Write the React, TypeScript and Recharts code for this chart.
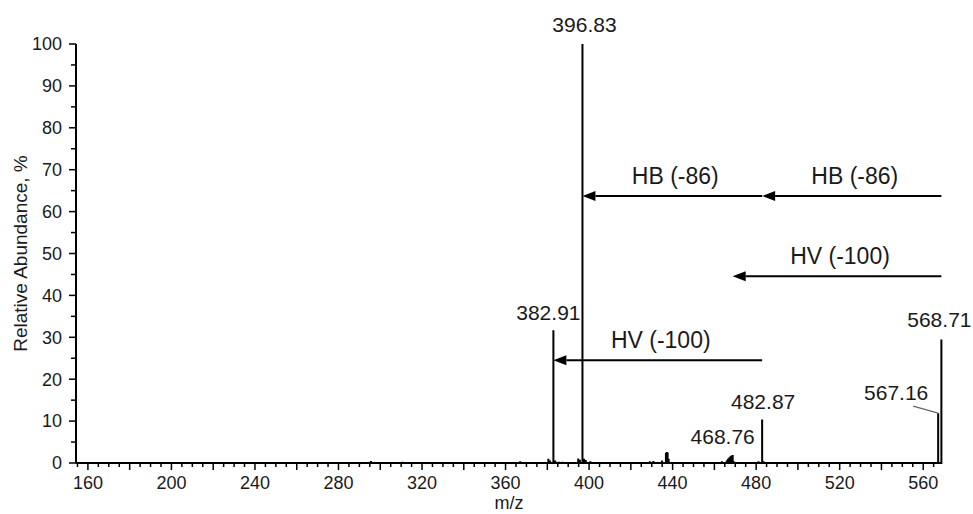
import { ComposedChart, Line, XAxis, YAxis, ReferenceLine, ReferenceDot } from "recharts";

// m/z of every stick in the spectrum and its relative abundance (%)
const peakMz = [
    295.5, 310.6, 367.0, 380.5, 381.3, 382.91, 383.8, 385.5, 387.2, 394.8, 395.6, 396.83,
    397.6, 398.4, 400.6, 429.1, 430.8, 434.9, 436.8, 437.2, 437.6, 438.1, 463.6, 465.9,
    466.5, 467.1, 467.7, 468.2, 468.76, 469.3, 481.1, 482.87, 483.6, 567.16, 568.71,
];
const peakAbundance = [
    0.5, 0.3, 0.4, 1.0, 0.6, 31.7, 0.6, 0.3, 0.3, 1.1, 0.8, 100,
    1.0, 0.7, 0.4, 0.4, 0.5, 0.6, 2.4, 2.6, 2.5, 1.0, 0.4, 0.6,
    1.0, 1.3, 1.6, 1.8, 1.9, 0.4, 0.4, 10.4, 0.4, 11.9, 29.5,
];

const labeledPeaks = [382.91, 396.83, 468.76, 482.87, 567.16, 568.71];

// neutral losses drawn as arrows (from, to, height in %)
const lossFrom = [568.71, 482.87, 568.71, 482.87];
const lossTo = [482.87, 396.83, 468.76, 382.91];
const lossLevel = [63.7, 63.7, 44.6, 24.5];
const lossText = ["HB (-86)", "HB (-86)", "HV (-100)", "HV (-100)"];

const xLabelTicks = [160, 200, 240, 280, 320, 360, 400, 440, 480, 520, 560];
const yLabelTicks = [0, 10, 20, 30, 40, 50, 60, 70, 80, 90, 100];

const X_MIN = 154.3;
const X_MAX = 569;

// minor ticks every 5 units on both axes
const xTicks = Array.from({ length: 83 }, (_, i) => 155 + i * 5);
const yTicks = Array.from({ length: 21 }, (_, i) => i * 5);

// stick spectrum: each peak goes baseline -> top -> baseline
const stickData = peakMz.flatMap((mz, i) => [
    { mz, ab: 0 },
    { mz, ab: peakAbundance[i] },
    { mz, ab: 0 },
]);

// label offsets from the top of the peak (px)
const labelOffsets: Record<string, [number, number]> = {
    "396.83": [2, -19],
    "382.91": [-5, -18],
    "482.87": [1, -18],
    "468.76": [-10, -18],
    "567.16": [-42, -20],
    "568.71": [-2, -20],
};

const TEXT = "#1a1a1a";

const XTick = (props: any) => {
    const { x, y, payload } = props;
    const v = payload.value;
    const major = v % 20 === 0;
    return (
        <g>
            <line x1={x} x2={x} y1={y} y2={y + (major ? 7 : 4)} stroke="#000" strokeWidth={1.5} />
            {xLabelTicks.includes(v) && (
                <text x={x} y={y + 26} textAnchor="middle" fontSize={18} fill={TEXT}>
                    {v}
                </text>
            )}
        </g>
    );
};

const YTick = (props: any) => {
    const { x, y, payload } = props;
    const v = payload.value;
    const major = yLabelTicks.includes(v);
    return (
        <g>
            <line x1={x} x2={x - (major ? 7 : 5)} y1={y} y2={y} stroke="#000" strokeWidth={1.5} />
            {major && (
                <text x={x - 14} y={y} dy="0.35em" textAnchor="end" fontSize={18} fill={TEXT}>
                    {v}
                </text>
            )}
        </g>
    );
};

const Arrow = (props: any) => {
    const { x1, y1, x2, y2, text } = props;
    const head = 13;
    const half = 5;
    const dir = x2 < x1 ? 1 : -1;
    return (
        <g>
            <line x1={x1} y1={y1} x2={x2 + dir * head} y2={y2} stroke="#000" strokeWidth={2} />
            <polygon
                points={`${x2},${y2} ${x2 + dir * head},${y2 - half} ${x2 + dir * head},${y2 + half}`}
                fill="#000"
            />
            <text x={(x1 + x2) / 2 + 3} y={y1 - 20} dy="0.35em" textAnchor="middle" fontSize={23} fill={TEXT}>
                {text}
            </text>
        </g>
    );
};

const PeakLabel = (props: any) => {
    const { cx, cy, text } = props;
    const [dx, dy] = labelOffsets[text] || [0, -18];
    return (
        <g>
            {text === "567.16" && (
                <line x1={cx - 25} y1={cy - 7} x2={cx} y2={cy} stroke="#666" strokeWidth={1.2} />
            )}
            <text x={cx + dx} y={cy + dy} dy="0.35em" textAnchor="middle" fontSize={21} fill={TEXT}>
                {text}
            </text>
        </g>
    );
};

const YTitle = (props: any) => {
    const { viewBox } = props;
    const cy = viewBox.y + viewBox.height / 2;
    return (
        <text x={20} y={cy} dy="0.35em" textAnchor="middle" fontSize={19} fill={TEXT} transform={`rotate(-90 20 ${cy})`}>
            Relative Abundance, %
        </text>
    );
};

const XTitle = (props: any) => {
    const { viewBox } = props;
    return (
        <text x={viewBox.x + viewBox.width / 2} y={503} dy="0.35em" textAnchor="middle" fontSize={18} fill={TEXT}>
            m/z
        </text>
    );
};

export default function App() {
    return (
        <div
            style={{
                position: "absolute",
                left: 0,
                top: 0,
                width: 973,
                height: 514,
                background: "#fff",
                fontFamily: '"Liberation Sans", Arial, sans-serif',
            }}
        >
            <ComposedChart width={973} height={514} data={stickData} margin={{ top: 44, right: 31, bottom: 0, left: 0 }}>
                <XAxis
                    dataKey="mz"
                    type="number"
                    domain={[X_MIN, X_MAX]}
                    ticks={xTicks}
                    interval={0}
                    tick={XTick}
                    tickLine={false}
                    tickSize={0}
                    tickMargin={0}
                    height={51}
                    axisLine={{ stroke: "#000", strokeWidth: 2 }}
                    label={(p: any) => <XTitle viewBox={p.viewBox} />}
                />
                <YAxis
                    type="number"
                    domain={[0, 100]}
                    ticks={yTicks}
                    interval={0}
                    tick={YTick}
                    tickLine={false}
                    tickSize={0}
                    tickMargin={0}
                    width={76}
                    axisLine={{ stroke: "#000", strokeWidth: 2 }}
                    label={(p: any) => <YTitle viewBox={p.viewBox} />}
                />
                <Line
                    type="linear"
                    dataKey="ab"
                    stroke="#000"
                    strokeWidth={2}
                    dot={false}
                    activeDot={false}
                    isAnimationActive={false}
                />
                {lossFrom.map((from, i) => (
                    <ReferenceLine
                        key={"loss" + i}
                        segment={[
                            { x: from, y: lossLevel[i] },
                            { x: lossTo[i], y: lossLevel[i] },
                        ]}
                        shape={(p: any) => <Arrow {...p} text={lossText[i]} />}
                    />
                ))}
                {labeledPeaks.map((mz) => (
                    <ReferenceDot
                        key={"lbl" + mz}
                        x={mz}
                        y={peakAbundance[peakMz.indexOf(mz)]}
                        r={0}
                        shape={(p: any) => <PeakLabel {...p} text={mz.toFixed(2)} />}
                    />
                ))}
            </ComposedChart>
        </div>
    );
}
